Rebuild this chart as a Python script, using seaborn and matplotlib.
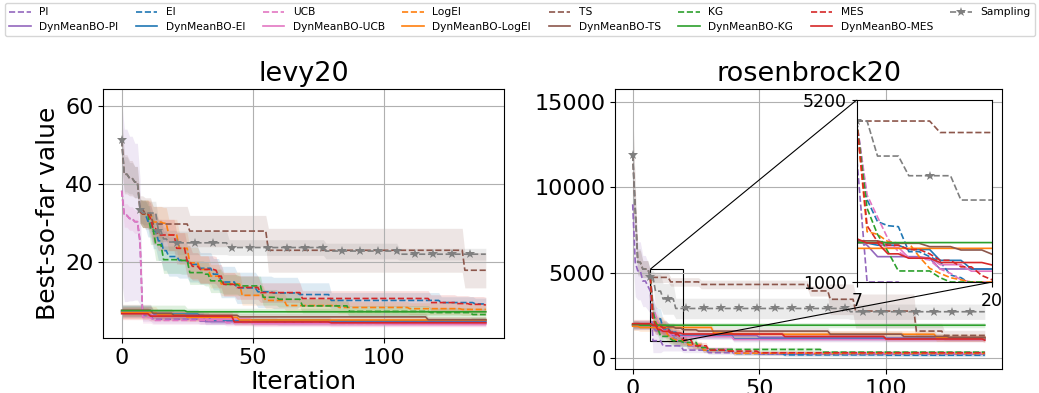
import numpy as np
import matplotlib
matplotlib.use("Agg")
import matplotlib.pyplot as plt
import seaborn as sns
from mpl_toolkits.axes_grid1.inset_locator import mark_inset

N_ITER = 140
METHODS = ["PI", "EI", "UCB", "LogEI", "TS", "KG", "MES"]
COLORS = {"PI": "tab:purple", "EI": "tab:blue", "UCB": "tab:pink", "LogEI": "tab:orange",
          "TS": "tab:brown", "KG": "tab:green", "MES": "tab:red", "Sampling": "tab:gray"}
TITLES = ["levy20", "rosenbrock20"]

# ---------------- levy20 : change points (iteration), best-so-far mean, std ----------------
levy_sampling_it = [0, 1, 3, 5, 7, 8, 14, 16, 18, 21, 41, 78, 106]
levy_sampling_y = [51.2, 42.5, 41.5, 40.5, 33.5, 32.6, 28.0, 26.0, 25.2, 25.0, 23.8, 22.9, 22.1]
levy_sampling_sd = [6.5, 4.5, 4.0, 4.0, 3.0, 3.0, 3.0, 3.0, 3.0, 3.0, 2.0, 2.0, 1.5]

levy_ts_it = [0, 1, 3, 5, 7, 9, 12, 26, 56, 131]
levy_ts_y = [51.2, 42.5, 41.5, 40.5, 33.5, 32.5, 29.8, 28.0, 23.1, 18.0]
levy_ts_sd = [6.5, 5.0, 4.5, 4.0, 3.5, 4.0, 4.5, 4.0, 5.6, 4.5]

levy_pi_it = [0, 1, 3, 5, 7, 8, 12, 30, 60]
levy_pi_y = [38.3, 32.0, 31.2, 30.4, 25.3, 6.5, 5.5, 5.0, 4.8]
levy_pi_sd = [23.0, 22.0, 21.0, 20.0, 16.0, 1.5, 1.0, 0.8, 0.8]

levy_ucb_it = [0, 1, 3, 5, 7, 8, 12, 40, 80]
levy_ucb_y = [38.3, 32.0, 31.2, 30.4, 25.3, 6.0, 5.2, 4.6, 4.4]
levy_ucb_sd = [3.0, 3.0, 3.0, 3.0, 4.0, 1.5, 1.0, 0.8, 0.8]

levy_ei_it = [7, 8, 10, 12, 14, 16, 18, 22, 26, 30, 35, 38, 44, 52, 58, 68, 80, 122, 135]
levy_ei_y = [33.0, 32.4, 30.5, 28.0, 25.5, 23.0, 21.5, 20.5, 19.5, 18.5, 17.0, 15.0, 13.5, 12.5,
             12.2, 11.8, 10.3, 9.75, 9.4]
levy_ei_sd = [3.0, 3.5, 4.0, 4.5, 5.0, 5.0, 5.0, 4.5, 4.5, 4.0, 4.0, 4.0, 4.0, 4.0, 4.0, 3.0, 2.0,
              1.5, 1.5]

levy_logei_it = [7, 8, 12, 16, 18, 22, 26, 30, 34, 38, 46, 55, 63, 83, 110, 130]
levy_logei_y = [33.0, 32.4, 30.3, 30.0, 27.0, 23.6, 19.9, 18.2, 16.5, 14.5, 11.6, 10.3, 9.0, 8.5,
                8.2, 8.0]
levy_logei_sd = [3.0, 3.5, 4.0, 4.0, 4.0, 4.0, 4.0, 3.5, 3.0, 3.0, 2.5, 2.0, 1.8, 1.5, 1.5, 1.5]

levy_kg_it = [7, 8, 11, 13, 16, 23, 26, 32, 34, 39, 45, 54, 60, 69, 87, 118, 134]
levy_kg_y = [33.0, 32.4, 28.6, 24.5, 20.7, 20.5, 17.4, 17.0, 15.3, 14.4, 14.0, 11.1, 10.6, 8.9, 7.5,
             7.2, 6.7]
levy_kg_sd = [3.0, 3.5, 4.0, 4.0, 3.5, 3.5, 3.0, 3.0, 3.0, 2.5, 2.5, 2.0, 2.0, 1.8, 1.5, 1.2, 1.2]

levy_mes_it = [7, 8, 11, 12, 14, 21, 25, 27, 30, 36, 37, 39, 44, 53, 69, 118, 128, 133, 139]
levy_mes_y = [33.0, 32.4, 31.2, 28.6, 27.0, 23.6, 20.3, 19.0, 18.2, 18.0, 16.5, 14.4, 13.6, 12.3,
              10.8, 9.75, 9.5, 9.3, 9.1]
levy_mes_sd = [3.0, 3.5, 4.0, 4.0, 4.0, 4.0, 4.0, 3.5, 3.5, 3.5, 3.0, 3.0, 3.0, 2.5, 2.0, 2.0, 2.0,
               2.0, 2.0]

levy_dyn_pi_it = [0, 12, 20, 32, 60]
levy_dyn_pi_y = [7.6, 6.8, 6.5, 4.9, 4.8]
levy_dyn_pi_sd = [1.5, 1.2, 1.0, 0.8, 0.7]

levy_dyn_ei_it = [0, 12, 30, 34, 80]
levy_dyn_ei_y = [7.4, 6.8, 6.3, 5.3, 5.1]
levy_dyn_ei_sd = [1.5, 1.2, 1.0, 0.8, 0.7]

levy_dyn_ucb_it = [0, 12, 30, 50, 100]
levy_dyn_ucb_y = [7.3, 6.5, 5.5, 4.4, 4.3]
levy_dyn_ucb_sd = [1.5, 1.2, 1.0, 0.8, 0.7]

levy_dyn_logei_it = [0, 14, 25, 45]
levy_dyn_logei_y = [7.2, 6.6, 6.0, 5.3]
levy_dyn_logei_sd = [1.5, 1.2, 1.0, 0.8]

levy_dyn_ts_it = [0, 12, 20, 45, 117]
levy_dyn_ts_y = [7.8, 7.0, 6.5, 6.1, 5.4]
levy_dyn_ts_sd = [1.5, 1.2, 1.0, 0.9, 0.8]

levy_dyn_kg_it = [0, 25]
levy_dyn_kg_y = [7.7, 7.4]
levy_dyn_kg_sd = [1.4, 0.9]

levy_dyn_mes_it = [0, 11, 43, 80]
levy_dyn_mes_y = [6.9, 6.3, 4.8, 4.6]
levy_dyn_mes_sd = [1.5, 1.2, 0.8, 0.7]

# ---------------- rosenbrock20 ----------------
rosen_sampling_it = [0, 1, 2, 4, 7, 9, 12, 17, 86]
rosen_sampling_y = [11900, 8700, 5600, 5200, 4715, 3907, 3453, 2892, 2700]
rosen_sampling_sd = [2500, 1500, 800, 500, 400, 1000, 900, 600, 450]

rosen_ts_it = [0, 1, 2, 4, 7, 15, 27, 70, 78, 88, 112, 123]
rosen_ts_y = [11900, 8700, 5600, 5200, 4715, 4450, 4300, 3920, 3430, 2740, 1565, 1310]
rosen_ts_sd = [3100, 1200, 700, 500, 300, 250, 250, 300, 900, 1000, 450, 300]

rosen_pi_it = [0, 1, 2, 4, 6, 7, 8, 12, 20, 30, 50]
rosen_pi_y = [9000, 5600, 5100, 4500, 4200, 3900, 1000, 700, 450, 300, 220]
rosen_pi_sd = [2800, 2000, 1700, 1500, 1400, 1300, 700, 300, 150, 100, 100]

rosen_ei_it = [7, 8, 9, 10, 11, 12, 14, 15, 16, 17, 18, 22, 28, 40, 60, 100]
rosen_ei_y = [4715, 2900, 2393, 2300, 2277, 1700, 1585, 1470, 1160, 1100, 950, 700, 450, 250, 170,
              150]
rosen_ei_sd = [300, 600, 600, 600, 600, 500, 450, 400, 350, 300, 300, 200, 150, 100, 80, 80]

rosen_ucb_it = [7, 8, 9, 10, 11, 12, 14, 15, 16, 17, 18, 22, 28, 40, 70]
rosen_ucb_y = [4715, 3008, 2500, 2000, 1700, 1550, 1508, 1300, 1200, 1050, 1000, 700, 500, 280, 250]
rosen_ucb_sd = [300, 600, 600, 550, 500, 450, 400, 350, 300, 300, 300, 200, 150, 100, 80]

rosen_logei_it = [7, 8, 9, 10, 11, 13, 14, 15, 16, 17, 18, 22, 28, 40, 70]
rosen_logei_y = [4715, 2162, 2100, 1931, 1900, 1585, 1316, 1200, 1100, 1050, 1000, 750, 450, 270,
                 255]
rosen_logei_sd = [300, 600, 550, 500, 500, 450, 400, 350, 300, 300, 300, 200, 150, 100, 80]

rosen_kg_it = [7, 8, 9, 10, 11, 15, 16, 20, 26, 30, 75]
rosen_kg_y = [4715, 2700, 2100, 1700, 1255, 1100, 1000, 900, 600, 488, 330]
rosen_kg_sd = [300, 600, 550, 450, 350, 300, 300, 250, 150, 120, 100]

rosen_mes_it = [7, 8, 9, 10, 12, 14, 15, 17, 19, 20, 24, 30, 37, 50]
rosen_mes_y = [4715, 2300, 1931, 1850, 1750, 1650, 1500, 1350, 1150, 1050, 700, 450, 390, 294]
rosen_mes_sd = [300, 600, 550, 500, 450, 400, 400, 350, 300, 300, 200, 150, 120, 100]

rosen_dyn_pi_it = [0, 8, 9, 14, 15, 50, 100]
rosen_dyn_pi_y = [1950, 1850, 1585, 1547, 1301, 1200, 1150]
rosen_dyn_pi_sd = [250, 230, 200, 200, 180, 150, 150]

rosen_dyn_ei_it = [0, 9, 12, 15, 18, 40]
rosen_dyn_ei_y = [1900, 1850, 1750, 1500, 1300, 1120]
rosen_dyn_ei_sd = [250, 230, 200, 200, 180, 150]

rosen_dyn_ucb_it = [0, 10, 12, 15, 18, 40]
rosen_dyn_ucb_y = [1900, 1800, 1560, 1400, 1250, 1070]
rosen_dyn_ucb_sd = [250, 230, 200, 200, 180, 150]

rosen_dyn_logei_it = [0, 3, 32, 40, 120]
rosen_dyn_logei_y = [1850, 1777, 1450, 1380, 1180]
rosen_dyn_logei_sd = [250, 230, 220, 220, 220]

rosen_dyn_ts_it = [0, 10, 14, 17, 20, 26, 78, 107, 125]
rosen_dyn_ts_y = [1950, 1893, 1816, 1739, 1640, 1565, 1380, 1250, 1200]
rosen_dyn_ts_sd = [250, 230, 220, 200, 200, 200, 180, 160, 150]

rosen_dyn_kg_it = [0, 3]
rosen_dyn_kg_y = [1960, 1910]
rosen_dyn_kg_sd = [200, 150]

rosen_dyn_mes_it = [0, 8, 10, 12, 15, 20, 60, 100, 139]
rosen_dyn_mes_y = [2000, 1900, 1650, 1550, 1450, 1393, 1250, 1100, 1035]
rosen_dyn_mes_sd = [250, 230, 200, 200, 180, 170, 150, 150, 150]

g = globals()


def hold(it, vals):
    """best-so-far is constant between improvements: forward fill up to the last iteration"""
    x = np.arange(it[0], N_ITER)
    idx = np.searchsorted(np.asarray(it), x, side="right") - 1
    return x, np.asarray(vals, dtype=float)[idx]


def series_order():
    out = []
    for m in METHODS:
        out.append((m, m.lower(), "--"))
        out.append(("DynMeanBO-" + m, "dyn_" + m.lower(), "-"))
    out.append(("Sampling", "sampling", "--"))
    return out


fig = plt.figure(figsize=(10.39, 3.93), dpi=100)
ax_l = fig.add_axes([0.0996, 0.140, 0.3855, 0.6328])
ax_r = fig.add_axes([0.592, 0.0603, 0.3728, 0.7125])
ax_in = fig.add_axes([0.8245, 0.2824, 0.1305, 0.4631])
LW = 1.2


def draw(ax, prefix, bands=True):
    for label, key, ls in series_order():
        method = label.replace("DynMeanBO-", "")
        c = COLORS[method]
        x, y = hold(g[f"{prefix}_{key}_it"], g[f"{prefix}_{key}_y"])
        _, sd = hold(g[f"{prefix}_{key}_it"], g[f"{prefix}_{key}_sd"])
        kw = dict(color=c, linestyle=ls, linewidth=LW, label=label, legend=False, ax=ax)
        if method == "Sampling":
            kw.update(marker="*", markevery=7, markersize=7, markeredgewidth=0)
        sns.lineplot(x=x, y=y, **kw)
        if bands:
            ax.fill_between(x, y - sd, y + sd, color=c, alpha=0.15, linewidth=0)


draw(ax_l, "levy")
draw(ax_r, "rosen")
draw(ax_in, "rosen", bands=False)

for ax, t in zip([ax_l, ax_r], TITLES):
    ax.set_title(t, fontsize=19.5)
    ax.grid(True, color="#b0b0b0", linewidth=0.8)
    ax.set_xticks([0, 50, 100])
    ax.tick_params(labelsize=16)
    ax.set_xlabel("")
    ax.set_ylabel("")
ax_l.set_yticks([20, 40, 60])
ax_r.set_yticks([0, 5000, 10000, 15000])
ax_l.set_xlabel("Iteration", fontsize=18, labelpad=2)
ax_l.set_ylabel("Best-so-far value", fontsize=18)

ax_in.set_xlim(7, 20)
ax_in.set_ylim(1000, 5200)
ax_in.set_xticks([7, 20])
ax_in.set_yticks([1000, 5200])
ax_in.tick_params(labelsize=12.5)
ax_in.set_xlabel("")
ax_in.set_ylabel("")
mark_inset(ax_r, ax_in, loc1=2, loc2=4, fc="none", ec="black", lw=0.8)

handles, labels = ax_l.get_legend_handles_labels()
fig.legend(handles, labels, loc="upper left", bbox_to_anchor=(0.0048, 0.5, 0.9913, 0.492),
           mode="expand", ncol=8, fontsize=7.7, labelspacing=0.4, borderaxespad=0,
           handlelength=2.0, handletextpad=0.8, borderpad=0.4)

fig.savefig("out.png", dpi=100)
